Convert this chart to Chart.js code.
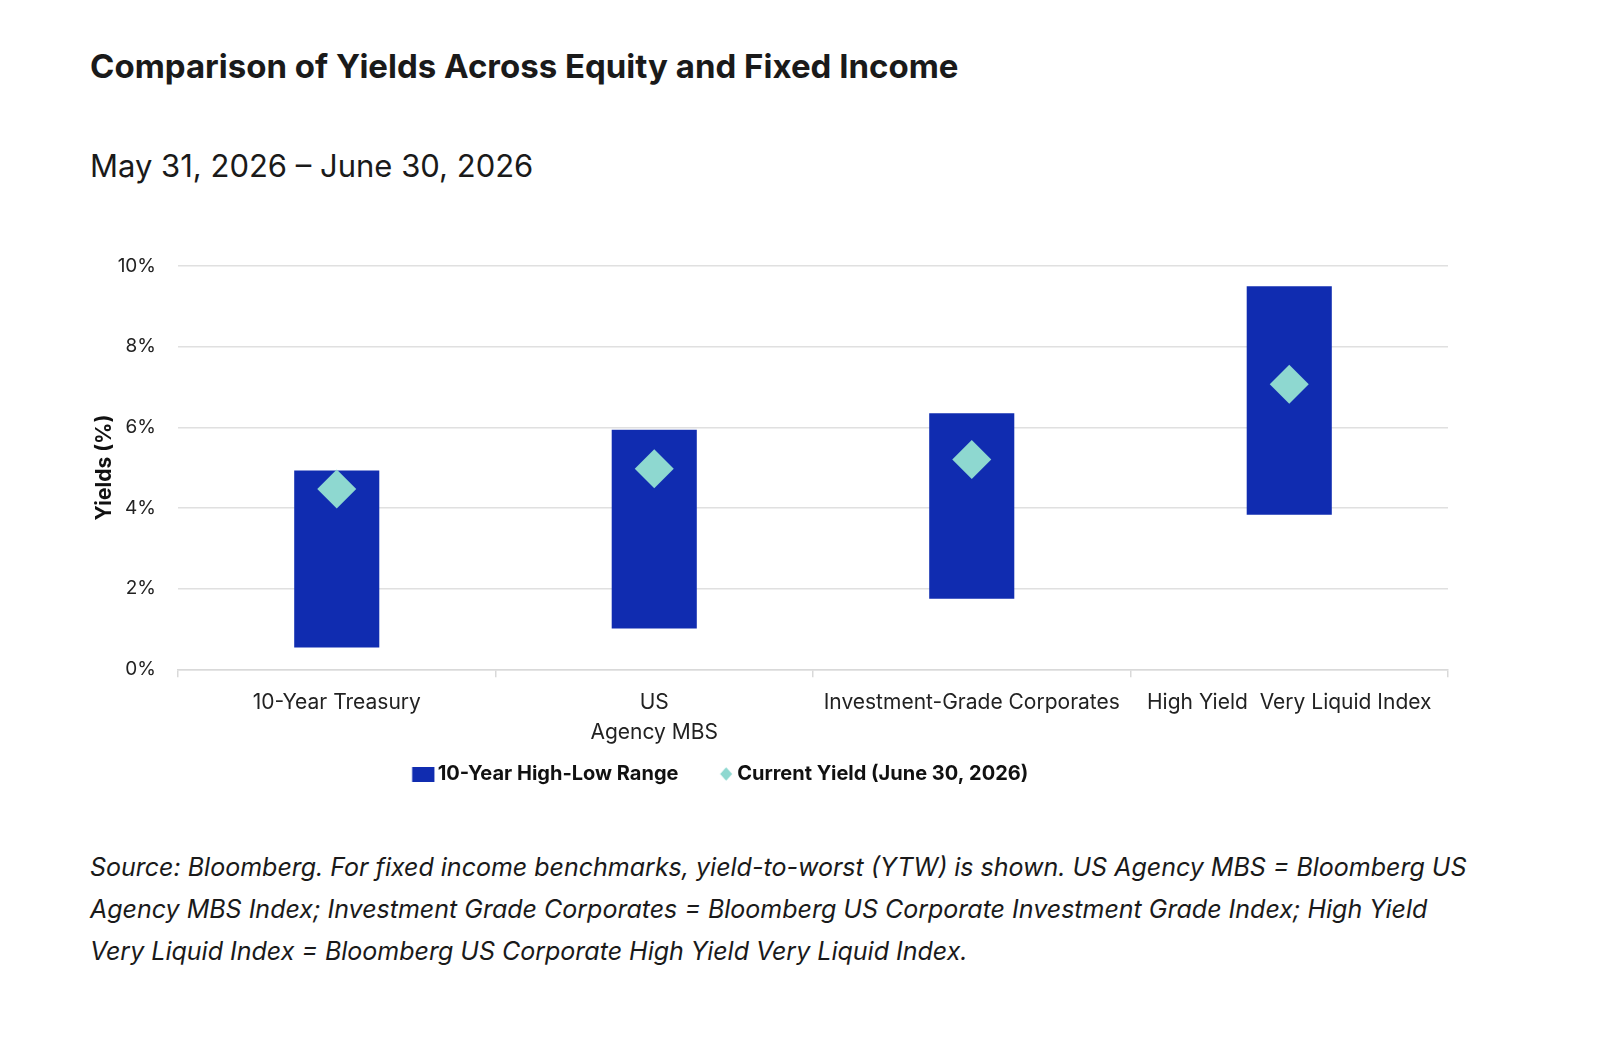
<!DOCTYPE html>
<html>
<head>
<meta charset="utf-8">
<script src="https://cdn.jsdelivr.net/npm/chart.js@4.4.1/dist/chart.umd.min.js"></script>
<style>
  html, body { margin: 0; padding: 0; background: #ffffff; }
  body { width: 1606px; height: 1052px; position: relative; overflow: hidden; font-family: Inter, "Noto Sans", sans-serif; color: #1a1a1a; }
  #title { position: absolute; left: 90px; top: 46px; font-size: 33px; line-height: 40px; font-weight: 700; white-space: nowrap; }
  #subtitle { position: absolute; left: 90px; top: 146px; font-size: 31px; line-height: 40px; font-weight: 400; white-space: nowrap; }
  #note { position: absolute; left: 90px; top: 846px; font-size: 25px; line-height: 42px; font-style: italic; white-space: nowrap; color: #1a1a1a; }
  #wrap { position: absolute; left: 0; top: 230px; width: 1606px; height: 600px; }
</style>
</head>
<body>
<div id="title">Comparison of Yields Across Equity and Fixed Income</div>
<div id="subtitle">May 31, 2026 – June 30, 2026</div>
<div id="wrap"><canvas id="c"></canvas></div>
<div id="note">Source: Bloomberg. For fixed income benchmarks, yield-to-worst (YTW) is shown. US Agency MBS = Bloomberg US<br>Agency MBS Index; Investment Grade Corporates = Bloomberg US Corporate Investment Grade Index; High Yield<br>Very Liquid Index = Bloomberg US Corporate High Yield Very Liquid Index.</div>
<script>
const categories = [
  "10-Year Treasury",
  ["US", "Agency MBS"],
  "Investment-Grade Corporates",
  "High Yield  Very Liquid Index"
];
const rangeLow = [0.54, 1.01, 1.75, 3.83];
const rangeHigh = [4.93, 5.94, 6.35, 9.50];
const currentYield = [4.47, 4.97, 5.20, 7.07];
const yTicks = [0, 2, 4, 6, 8, 10];
const seriesNames = ["10-Year High-Low Range", "Current Yield (June 30, 2026)"];

const BAR = "#102cb0";
const DIAMOND = "#8ed8d0";

function makeRectIcon() {
  const c = document.createElement("canvas");
  c.width = 58; c.height = 15;
  const g = c.getContext("2d");
  g.fillStyle = BAR;
  g.fillRect(34.8, 0, 22.3, 15);
  return c;
}
function makeDiamondIcon() {
  const c = document.createElement("canvas");
  c.width = 56; c.height = 16;
  const g = c.getContext("2d");
  g.fillStyle = DIAMOND;
  g.beginPath();
  g.moveTo(48.4, 1.3); g.lineTo(54.4, 8); g.lineTo(48.4, 14.7); g.lineTo(42.4, 8);
  g.closePath(); g.fill();
  return c;
}
const icons = [makeRectIcon(), makeDiamondIcon()];

const shiftLegend = {
  id: "shiftLegend",
  afterLayout(chart) {
    const lg = chart.legend;
    if (lg) { lg.left -= 17.4; lg.right -= 17.4; }
  }
};

new Chart(document.getElementById("c"), {
  data: {
    labels: categories,
    datasets: [
      {
        type: "bar",
        label: seriesNames[0],
        data: rangeLow.map((lo, i) => [lo, rangeHigh[i]]),
        backgroundColor: BAR,
        borderWidth: 0,
        categoryPercentage: 1,
        barPercentage: 0.268,
        order: 2
      },
      {
        type: "line",
        label: seriesNames[1],
        data: currentYield,
        showLine: false,
        pointStyle: "rectRot",
        pointRadius: 19.5,
        pointHoverRadius: 19.5,
        pointBackgroundColor: DIAMOND,
        pointBorderWidth: 0,
        borderColor: DIAMOND,
        backgroundColor: DIAMOND,
        order: 1
      }
    ]
  },
  options: {
    responsive: true,
    maintainAspectRatio: false,
    animation: false,
    layout: { padding: { left: 0, right: 158, top: 36, bottom: 36 } },
    plugins: {
      tooltip: { enabled: false },
      legend: {
        position: "bottom",
        align: "center",
        labels: {
          usePointStyle: true,
          pointStyleWidth: 42.8,
          boxWidth: 20,
          boxHeight: 20,
          padding: 5.9,
          color: "#111111",
          font: { family: "Inter", size: 20, weight: "700" },
          generateLabels(chart) {
            return chart.data.datasets.map((ds, i) => ({
              text: ds.label,
              pointStyle: icons[i],
              fillStyle: ds.backgroundColor,
              strokeStyle: ds.backgroundColor,
              lineWidth: 0,
              hidden: false,
              datasetIndex: i,
              fontColor: "#111111"
            }));
          }
        }
      }
    },
    scales: {
      x: {
        type: "category",
        offset: true,
        grid: {
          offset: true,
          drawOnChartArea: false,
          drawTicks: true,
          tickLength: 8,
          color: "#d9d9d9",
          lineWidth: 1.5
        },
        border: { display: true, color: "#d9d9d9", width: 1.5 },
        ticks: {
          color: "#222222",
          font: { family: "Inter", size: 21, lineHeight: 1.4 },
          padding: 11,
          maxRotation: 0,
          autoSkip: false
        }
      },
      y: {
        min: 0,
        max: 10,
        afterBuildTicks(scale) { scale.ticks = yTicks.map(v => ({ value: v })); },
        grid: { color: "#e0e0e0", lineWidth: 1.5, drawTicks: false },
        border: { display: false },
        ticks: {
          color: "#222222",
          font: { family: "Inter", size: 19 },
          padding: 22,
          callback: v => v + "%"
        },
        title: {
          display: true,
          text: "Yields (%)",
          color: "#111111",
          font: { family: "Inter", size: 21, weight: "700" },
          padding: { top: 92, bottom: 0 }
        },
        afterFit(scale) { scale.width = 178; }
      }
    }
  },
  plugins: [shiftLegend]
});
</script>
</body>
</html>
